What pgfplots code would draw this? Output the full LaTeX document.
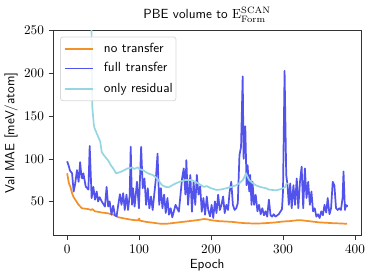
\documentclass[border=0pt]{standalone}
\usepackage{pgfplots}
\pgfplotsset{compat=1.18}
\definecolor{corange}{RGB}{243,145,40}
\definecolor{cblue}{RGB}{82,82,236}
\definecolor{ccyan}{RGB}{150,214,226}
\begin{document}
\begin{tikzpicture}
\begin{axis}[
  scale only axis,
  width=233pt, height=155pt,
  xmin=-19.45, xmax=408.45,
  ymin=10, ymax=250,
  xtick={0,100,200,300,400},
  ytick={50,100,150,200,250},
  tick align=outside,
  tick pos=left,
  major tick length=3.5pt,
  axis line style={black!80},
  every tick/.style={black!80},
  xlabel={\sffamily Epoch},
  ylabel={\sffamily Val MAE [meV/atom]},
  xlabel style={yshift=2pt},
  ylabel style={yshift=-2pt},
  title={\sffamily PBE volume to $\mathrm{E}^{\mathrm{SCAN}}_{\mathrm{Form}}$},
  title style={yshift=-3pt},
  every axis plot/.append style={line width=1.3pt, line join=round},
  clip=true,
]
\coordinate (sw) at (rel axis cs:0,0);
\coordinate (ne) at (rel axis cs:1,1);
\addplot[corange] coordinates {
(0,83) (1,78) (2,73) (3,70) (4.5,67) (6.8,59.6) (9,55) (11.4,52) (14,48.5) (16,46) (20.5,42) (25,41.5) (29.5,41) (33,40) (35,41) (38.7,38.4) (42,38) (45,37.5) (48,37) (52.5,36.6) (57,36) (62,35) (66,34) (71,31.4) (80,30) (89,28.6) (95,28) (99,28) (100,30) (101,27.5) (110,26) (120,25) (130,23.8) (140,24) (150,25) (160,26) (170,27) (180,28) (190,29.4) (195,29) (200,28) (210,27) (220,26.5) (230,26) (240,25) (250,24.4) (260,24.2) (270,24.3) (280,24.8) (290,25.5) (300,26.5) (310,27) (320,28) (325,28) (330,27.5) (340,26.5) (350,25.5) (360,25) (370,24.5) (380,24.2) (389,23.8)
};
\addplot[cblue] coordinates {
(0,97) (2,92) (4,86) (6.8,83) (9,61.6) (11,70) (13.6,86.7) (15.9,73) (18,96) (20,78) (21.1,77) (22.5,83) (25.8,67.4) (29.5,64) (31.3,115) (34,54) (36.4,67) (38.7,52) (41,61.6) (43,50) (45,55) (48,50) (52.5,44) (54.8,67) (57,44) (59,50) (61.6,34.5) (64,45) (66.4,33.7) (68.7,32.6) (71,46) (73.3,58.4) (75.5,46) (77.8,59.6) (80,40) (82.4,58) (84.6,40) (86.9,57) (88.3,114) (90.1,46) (91.5,65.5) (93.7,44) (97,73) (99.7,42) (102.8,114) (105,65.5) (107.4,77) (109.7,46) (112,65.5) (114.2,42) (116.5,55.8) (118.8,40) (121,58) (123.3,77) (125.6,106) (127.9,46) (130.2,65.5) (132.4,42) (134.7,58) (137,36.4) (139.3,54) (141.5,34.5) (143.8,42) (146.1,31.4) (150.6,46) (155.2,38) (159.7,77) (162,88.7) (164.3,58) (165.6,98.4) (168,46) (171.1,81) (173.4,38) (175.7,73) (178,46) (180.2,81) (182.5,58) (184.8,68) (187,38) (189.3,54) (191.6,34.5) (194,55.8) (196,40) (198.5,32.5) (200.7,46) (203,30.6) (205.3,50) (207.5,36.4) (209.8,58) (212.1,40) (214.4,46) (216.7,55.8) (218.9,36.4) (221.2,46) (223.5,40) (225.8,61.6) (228,73) (230.3,46) (232.6,40) (234.9,42) (237.1,48) (239.4,104) (241.6,114) (243.9,196.5) (245.2,100) (247.5,138) (249.3,69) (250.7,92.6) (253,61.6) (254.3,81) (256.2,46) (257.5,73) (259.8,46) (262,57.7) (264.4,38.4) (266.6,46) (268.9,35) (271.2,42) (273.5,33.8) (275.7,38.4) (278,32.2) (280.3,52) (282.6,33.8) (284.8,32.2) (287,35) (289.4,32.2) (294,35) (298.5,41) (299.9,61.6) (302.1,203) (304.4,81) (306.2,69) (308,46) (309.9,71) (312,42) (314.4,69) (316.7,46) (319,77) (321.2,42) (323.5,73) (325.8,90.7) (328,42) (330.3,88.7) (332.6,54) (334.9,73) (337.2,46) (339.4,61.6) (341.7,38.4) (344,42) (346.3,32.2) (348.5,35) (350.8,30.6) (353.1,38.4) (355.4,33.8) (357.6,46) (360,37) (362,54) (364.5,35) (366.7,42) (369,73) (371.3,69) (373.6,42) (375.9,40) (378.1,42) (380.4,40) (382.7,54) (384,85) (386,40) (387.2,46) (388.6,44) (389,46)
};
\addplot[ccyan] coordinates {
(33.5,320) (34,240) (34.5,180) (35,160) (36,150) (37,140) (38,136) (40,132) (43,126) (46,120) (48,108) (52,103) (57,98) (61,92) (64,88.7) (68,83) (72,84) (75.5,85) (80,87) (85,89) (87,88.7) (90,90) (93,88) (98,90) (100,88) (105,86.8) (110,84) (115,82) (119,81) (125,77) (130,71) (132,69) (137,67) (141.5,66.6) (146,69) (150.6,71) (156,73) (164,75) (170,75) (173,75) (178,73) (182.5,71) (190,67) (194,68) (200,65.5) (207.5,63.5) (214,64) (221,65.5) (228,67) (235,69) (240,72) (244,75) (247,80) (248.5,83) (250,80) (253,75) (257,72) (262,69) (268,67) (276,65.5) (280,64) (285,63.5) (290,63) (295,64) (300,65.5) (303,67) (305,71) (306,70)
};
% legend
\draw[black!15, fill=white, fill opacity=0.85, rounded corners=2pt, line width=0.6pt]
  (rel axis cs:0.0235,0.6585) rectangle (rel axis cs:0.399,0.9696);
\draw[corange, line width=1.3pt] (rel axis cs:0.0376,0.9116) -- (rel axis cs:0.1309,0.9116);
\draw[cblue, line width=1.3pt] (rel axis cs:0.0376,0.815) -- (rel axis cs:0.1309,0.815);
\draw[ccyan, line width=1.3pt] (rel axis cs:0.0376,0.715) -- (rel axis cs:0.1309,0.715);
\node[anchor=west, inner sep=0pt, text height=1.6ex, text depth=0.45ex, font=\sffamily] at (rel axis cs:0.164,0.9116) {no transfer};
\node[anchor=west, inner sep=0pt, text height=1.6ex, text depth=0.45ex, font=\sffamily] at (rel axis cs:0.164,0.815) {full transfer};
\node[anchor=west, inner sep=0pt, text height=1.6ex, text depth=0.45ex, font=\sffamily] at (rel axis cs:0.164,0.715) {only residual};
\end{axis}
\path ([shift={(-37.5pt,-31.5pt)}]sw) rectangle ([shift={(9.75pt,23.25pt)}]ne);
\end{tikzpicture}
\end{document}
